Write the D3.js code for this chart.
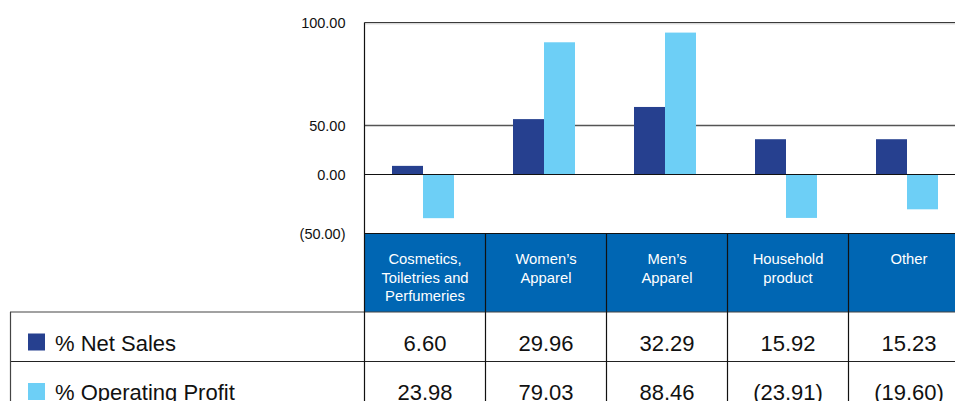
<!DOCTYPE html>
<html>
<head>
<meta charset="utf-8">
<script src="https://cdn.jsdelivr.net/npm/d3@7"></script>
<style>
  body { margin: 0; background: #fff; }
  svg { display: block; font-family: "Liberation Sans", Arial, Helvetica, sans-serif; }
</style>
</head>
<body>
<div id="chart"></div>
<script>
const categories = [
  ['Cosmetics,', 'Toiletries and', 'Perfumeries'],
  ['Women\u2019s', 'Apparel'],
  ['Men\u2019s', 'Apparel'],
  ['Household', 'product'],
  ['Other']
];
const seriesNames = ['% Net Sales', '% Operating Profit'];
const seriesColors = ['#26408f', '#6dcff6'];

// bar heights as drawn in the picture
const netSalesBars = [8.8, 53.1, 59.0, 36.0, 36.0];
const opProfitBars = [-37.0, 90.4, 95.1, -36.8, -29.5];

// values printed in the table
const netSalesTable = [6.60, 29.96, 32.29, 15.92, 15.23];
const opProfitTable = [23.98, 79.03, 88.46, -23.91, -19.60];

const yTicks = [-50, 0, 50, 100];

const width = 955, height = 401;
const plotLeft = 364.5, colW = 121;
const fmt = d3.format('.2f');
const paren = (v) => v < 0 ? `(${fmt(-v)})` : fmt(v);

const svg = d3.select('#chart').append('svg')
  .attr('width', width)
  .attr('height', height);

// the axis in the picture is not evenly spaced, so use a piecewise scale
const y = d3.scaleLinear()
  .domain([-50, 0, 50, 100])
  .range([233.5, 174.5, 125.5, 22.5]);

const x = d3.scaleBand()
  .domain(d3.range(categories.length))
  .range([plotLeft, plotLeft + colW * categories.length]);

const xBars = d3.scaleBand()
  .domain(d3.range(categories.length))
  .range([plotLeft - 2, plotLeft - 2 + colW * categories.length]);

const xInner = d3.scaleBand()
  .domain([0, 1])
  .range([0, 62]);

// gridlines
svg.append('line')
  .attr('x1', plotLeft).attr('x2', width)
  .attr('y1', y(100)).attr('y2', y(100))
  .attr('stroke', '#3a3a3a').attr('stroke-width', 1.2);
svg.append('line')
  .attr('x1', plotLeft).attr('x2', width)
  .attr('y1', y(100) + 1.3).attr('y2', y(100) + 1.3)
  .attr('stroke', '#c8c8c8').attr('stroke-width', 1);
svg.append('line')
  .attr('x1', plotLeft).attr('x2', width)
  .attr('y1', y(50)).attr('y2', y(50))
  .attr('stroke', '#555').attr('stroke-width', 1.6);

// bars
const seriesBars = [netSalesBars, opProfitBars];
seriesBars.forEach((vals, s) => {
  svg.append('g').selectAll('rect')
    .data(vals)
    .enter()
    .append('rect')
    .attr('x', (d, i) => xBars(i) + xBars.bandwidth() / 2 - 31 + xInner(s))
    .attr('y', (d) => y(Math.max(0, d)))
    .attr('width', xInner.bandwidth())
    .attr('height', (d) => Math.abs(y(d) - y(0)))
    .attr('fill', seriesColors[s]);
});

// zero line
svg.append('line')
  .attr('x1', plotLeft).attr('x2', width)
  .attr('y1', y(0)).attr('y2', y(0))
  .attr('stroke', '#111').attr('stroke-width', 1.2);

// y axis labels
const yAxis = svg.append('g')
  .attr('transform', `translate(${plotLeft},0)`)
  .call(d3.axisLeft(y).tickValues(yTicks).tickSize(0).tickPadding(19).tickFormat(paren));
yAxis.select('.domain').remove();
yAxis.selectAll('text')
  .attr('font-size', 14.5)
  .attr('font-family', '"Liberation Sans", Arial, sans-serif')
  .attr('fill', '#111');

// header band with categories
const headTop = 233.5, headBottom = 312;
svg.append('rect')
  .attr('x', plotLeft).attr('y', headTop)
  .attr('width', width - plotLeft).attr('height', headBottom - headTop)
  .attr('fill', '#0066b3');

const head = svg.append('g').selectAll('text')
  .data(categories)
  .enter()
  .append('text')
  .attr('x', (d, i) => x(i) + x.bandwidth() / 2)
  .attr('y', 264)
  .attr('text-anchor', 'middle')
  .attr('fill', '#fff')
  .attr('font-size', 14.8);
head.selectAll('tspan')
  .data((d) => d)
  .enter()
  .append('tspan')
  .attr('x', function () { return d3.select(this.parentNode).attr('x'); })
  .attr('dy', (d, i) => i === 0 ? 0 : 18.7)
  .text((d) => d);

// table
const rowTop = [312, 361.5];
const rowH = 49.5;
const tableRows = [netSalesTable, opProfitTable];

svg.append('line')
  .attr('x1', 10).attr('x2', width)
  .attr('y1', rowTop[0]).attr('y2', rowTop[0])
  .attr('stroke', '#444').attr('stroke-width', 1.2);
svg.append('line')
  .attr('x1', 10).attr('x2', width)
  .attr('y1', rowTop[1]).attr('y2', rowTop[1])
  .attr('stroke', '#222').attr('stroke-width', 1.2);
svg.append('line')
  .attr('x1', 10.5).attr('x2', 10.5)
  .attr('y1', rowTop[0]).attr('y2', height)
  .attr('stroke', '#444').attr('stroke-width', 1.2);

// plot frame: left axis line and header top
svg.append('line')
  .attr('x1', plotLeft).attr('x2', plotLeft)
  .attr('y1', y(100)).attr('y2', height)
  .attr('stroke', '#111').attr('stroke-width', 1.2);
svg.append('line')
  .attr('x1', plotLeft).attr('x2', width)
  .attr('y1', headTop).attr('y2', headTop)
  .attr('stroke', '#111').attr('stroke-width', 1.2);

// column dividers
svg.append('g').selectAll('line')
  .data(d3.range(1, categories.length))
  .enter()
  .append('line')
  .attr('x1', (d) => x(d)).attr('x2', (d) => x(d))
  .attr('y1', headTop).attr('y2', height)
  .attr('stroke', '#111').attr('stroke-width', 1.2);

tableRows.forEach((vals, r) => {
  const g = svg.append('g');
  g.append('rect')
    .attr('x', 28).attr('y', rowTop[r] + 21.5)
    .attr('width', 17).attr('height', 17)
    .attr('fill', seriesColors[r]);
  g.append('text')
    .attr('x', 55).attr('y', rowTop[r] + 38.8)
    .attr('font-size', 22)
    .attr('fill', '#111')
    .text(seriesNames[r]);
  g.selectAll('text.val')
    .data(vals)
    .enter()
    .append('text')
    .attr('class', 'val')
    .attr('x', (d, i) => x(i) + x.bandwidth() / 2)
    .attr('y', rowTop[r] + 38.8)
    .attr('text-anchor', 'middle')
    .attr('font-size', 22)
    .attr('fill', '#111')
    .text((d) => paren(d));
});
</script>
</body>
</html>
